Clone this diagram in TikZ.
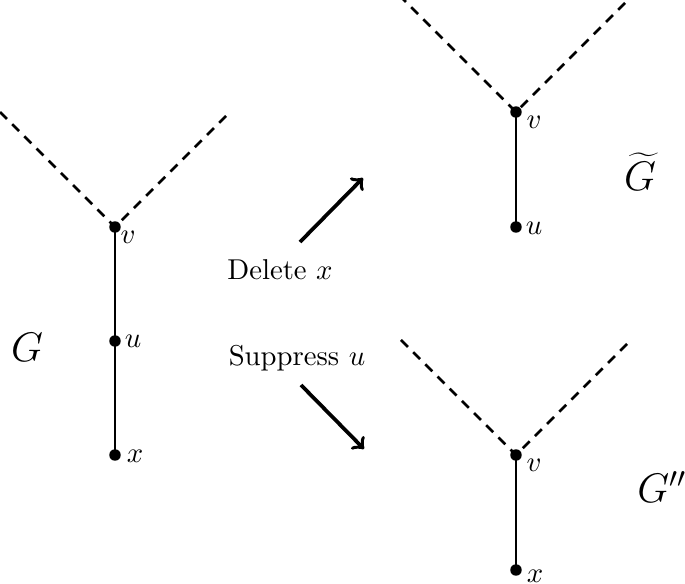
\documentclass[tikz,border=0pt]{standalone}
\usetikzlibrary{arrows}
\begin{document}
\begin{tikzpicture}[x=0.3484pt,y=-0.3484pt,
  vtx/.style={circle,fill=black,inner sep=0pt,minimum size=4pt},
  solidedge/.style={line width=0.9pt},
  dashedge/.style={line width=0.9pt,dash pattern=on 3.4pt off 2.6pt},
  bigarrow/.style={line width=1.3pt,-to},
  lbl/.style={inner sep=0pt},
  glabel/.style={inner sep=0pt,font=\Large}]
\useasboundingbox (0,0) rectangle (685,584);
\begin{scope}
\clip (0,0) rectangle (685,584);
% left graph
\node[vtx] (v1) at (115,227) {};
\node[vtx] (u1) at (115,341) {};
\node[vtx] (x1) at (115,455) {};
\coordinate (l1) at (0,112);
\coordinate (r1) at (230,112);
\draw[dashedge] (l1) -- (v1.center) -- (r1);
\draw[solidedge] (v1.center) -- (u1.center) -- (x1.center);
% top right graph
\node[vtx] (v2) at (516,112) {};
\node[vtx] (u2) at (516,227) {};
\coordinate (l2) at (399,-5);
\coordinate (r2) at (633,-5);
\draw[dashedge] (l2) -- (v2.center) -- (r2);
\draw[solidedge] (v2.center) -- (u2.center);
% bottom right graph
\node[vtx] (v3) at (516,455) {};
\node[vtx] (x3) at (516,570) {};
\coordinate (l3) at (401,340);
\coordinate (r3) at (631,340);
\draw[dashedge] (l3) -- (v3.center) -- (r3);
\draw[solidedge] (v3.center) -- (x3.center);
\end{scope}
% vertex labels
\node[lbl] (tv1) at (128,237) {$v$};
\node[lbl] (tu1) at (133,341) {$u$};
\node[lbl] (tx1) at (135,456) {$x$};
\node[lbl] (tv2) at (534,122) {$v$};
\node[lbl] (tu2) at (534,228) {$u$};
\node[lbl] (tv3) at (534,465) {$v$};
\node[lbl] (tx3) at (535,576) {$x$};
% graph names
\node[glabel] (G) at (27,347) {$G$};
\node[glabel] (Gt) at (640,172) {$\widetilde{G}$};
\node[glabel] (Gpp) at (662,487) {$G''$};
% operations
\node[lbl] (del) at (280,270) {Delete $x$};
\node[lbl] (sup) at (297,358) {Suppress $u$};
\coordinate (a1s) at (300,242);
\coordinate (a1e) at (363,178);
\coordinate (a2s) at (301,385);
\coordinate (a2e) at (364,449);
\draw[bigarrow] (a1s) -- (a1e);
\draw[bigarrow] (a2s) -- (a2e);
\end{tikzpicture}
\end{document}
